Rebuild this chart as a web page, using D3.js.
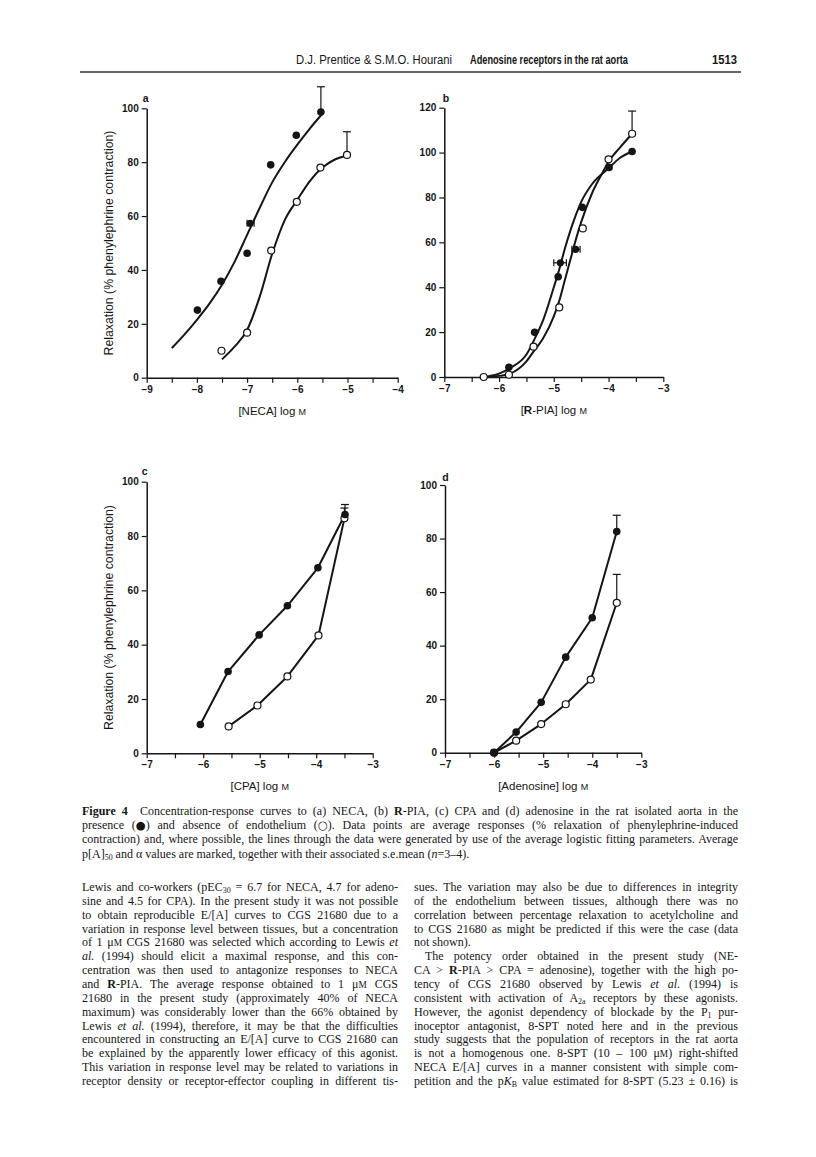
<!DOCTYPE html>
<html><head><meta charset="utf-8">
<script src="https://cdnjs.cloudflare.com/ajax/libs/d3/7.8.5/d3.min.js"></script>
<style>
html,body{margin:0;padding:0;background:#fff;}
svg{display:block;}
</style></head>
<body>
<script>
// ---------------- DATA ----------------
// Panel a: NECA
const necaFilledX = [-7.99, -7.52, -7.0, -6.53, -6.02, -5.53];
const necaFilledY = [25.1, 35.8, 46.2, 79, 90, 98.6];
const necaOpenX = [-7.51, -7.0, -6.52, -6.01, -5.54, -5.01];
const necaOpenY = [10, 16.7, 47.2, 65.3, 78, 82.7];
const necaFitFilledX = [-8.5, -8.25, -8.0, -7.75, -7.5, -7.25, -7.0, -6.75, -6.5, -6.25, -6.0, -5.75, -5.5];
const necaFitFilledY = [11, 16, 21.5, 27.5, 34.5, 43, 53, 63, 72.5, 80, 86.5, 92.5, 98];
const necaFitOpenX = [-7.5, -7.25, -7.0, -6.75, -6.5, -6.25, -6.0, -5.75, -5.5, -5.25, -5.0];
const necaFitOpenY = [6.8, 11.5, 17.7, 30, 46, 58.5, 66, 73, 78, 81, 82.5];
const necaErrTopFilled = 108;   // at last filled point
const necaErrTopOpen = 91.3;    // at last open point
const necaP50 = [[-6.94, 57.3, -7.0, -6.86]]; // x, y, xLow, xHigh

// Panel b: R-PIA
const rpiaFilledX = [-5.82, -5.35, -4.92, -4.48, -3.99, -3.57];
const rpiaFilledY = [4.3, 19.9, 44.7, 75.6, 93.4, 100.5];
const rpiaOpenX = [-6.28, -5.82, -5.37, -4.9, -4.47, -4.0, -3.57];
const rpiaOpenY = [0, 1, 13.5, 31, 66.2, 97, 108.4];
const rpiaFitFilledX = [-6.3, -6.0, -5.8, -5.5, -5.35, -5.2, -5.0, -4.9, -4.8, -4.7, -4.6, -4.5, -4.3, -4.0, -3.8, -3.57];
const rpiaFitFilledY = [0, 1.5, 4, 10, 17, 25, 40, 48, 57, 65, 72, 78, 86, 93, 97.5, 100.5];
const rpiaFitOpenX = [-6.3, -6.0, -5.8, -5.5, -5.35, -5.2, -5.0, -4.9, -4.8, -4.7, -4.6, -4.5, -4.3, -4.1, -4.0, -3.8, -3.57];
const rpiaFitOpenY = [0, 0.5, 1.5, 7, 12, 17, 27, 34, 43, 52, 61, 69, 82, 91.5, 96, 102, 108.4];
const rpiaErrTopOpen = 118.5;
const rpiaP50 = [[-4.88, 50.9, -5.0, -4.77], [-4.6, 56.9, -4.67, -4.52]];

// Panel c: CPA
const cpaFilledX = [-6.05, -5.56, -5.01, -4.51, -3.97, -3.49];
const cpaFilledY = [10.6, 30.1, 43.6, 54.3, 68.3, 87.9];
const cpaOpenX = [-5.55, -5.04, -4.51, -3.96, -3.5];
const cpaOpenY = [9.9, 17.6, 28.3, 43.4, 86.5];
const cpaErrTopFilled = 91.6;
const cpaErrTopOpen = 90.3;

// Panel d: Adenosine
const adoFilledX = [-6.0, -5.55, -5.04, -4.54, -4.0, -3.5];
const adoFilledY = [0, 7.7, 18.8, 35.7, 50.4, 82.6];
const adoOpenX = [-6.0, -5.55, -5.04, -4.54, -4.03, -3.5];
const adoOpenY = [0, 4.5, 10.7, 18.1, 27.3, 56];
const adoErrTopFilled = 88.7;
const adoErrTopOpen = 66.6;

// Ticks
const yTicks100 = [0, 20, 40, 60, 80, 100];
const yTicks120 = [0, 20, 40, 60, 80, 100, 120];
const xTicksA = [-9, -8, -7, -6, -5, -4];
const xTicksBCD = [-7, -6, -5, -4, -3];

// Text
const headerAuthors = "D.J. Prentice & S.M.O. Hourani";
const headerTitle = "Adenosine receptors in the rat aorta";
const headerPage = "1513";
const yAxisTitle = "Relaxation (% phenylephrine contraction)";

const captionLines = [
  "*Figure 4*  Concentration-response curves to (a) NECA, (b) *R*-PIA, (c) CPA and (d) adenosine in the rat isolated aorta in the",
  "presence (^●^) and absence of endothelium (^○^). Data points are average responses (% relaxation of phenylephrine-induced",
  "contraction) and, where possible, the lines through the data were generated by use of the average logistic fitting parameters. Average",
  "p[A]~50~ and α values are marked, together with their associated s.e.mean (_n_=3–4)."
];
const leftLines = [
  "Lewis and co-workers (pEC~30~ = 6.7 for NECA, 4.7 for adeno-",
  "sine and 4.5 for CPA). In the present study it was not possible",
  "to obtain reproducible E/[A] curves to CGS 21680 due to a",
  "variation in response level between tissues, but a concentration",
  "of 1 μ%M% CGS 21680 was selected which according to Lewis _et_",
  "_al._ (1994) should elicit a maximal response, and this con-",
  "centration was then used to antagonize responses to NECA",
  "and *R*-PIA. The average response obtained to 1 μ%M% CGS",
  "21680 in the present study (approximately 40% of NECA",
  "maximum) was considerably lower than the 66% obtained by",
  "Lewis _et al._ (1994), therefore, it may be that the difficulties",
  "encountered in constructing an E/[A] curve to CGS 21680 can",
  "be explained by the apparently lower efficacy of this agonist.",
  "This variation in response level may be related to variations in",
  "receptor density or receptor-effector coupling in different tis-"
];
const rightLines = [
  "sues. The variation may also be due to differences in integrity",
  "of the endothelium between tissues, although there was no",
  "correlation between percentage relaxation to acetylcholine and",
  "to CGS 21680 as might be predicted if this were the case (data",
  "not shown).",
  "The potency order obtained in the present study (NE-",
  "CA > *R*-PIA > CPA = adenosine), together with the high po-",
  "tency of CGS 21680 observed by Lewis _et al._ (1994) is",
  "consistent with activation of A~2a~ receptors by these agonists.",
  "However, the agonist dependency of blockade by the P~1~ pur-",
  "inoceptor antagonist, 8-SPT noted here and in the previous",
  "study suggests that the population of receptors in the rat aorta",
  "is not a homogenous one. 8-SPT (10 – 100 μ%M%) right-shifted",
  "NECA E/[A] curves in a manner consistent with simple com-",
  "petition and the p_K_~B~ value estimated for 8-SPT (5.23 ± 0.16) is"
];
const rightNoJustify = [4];
const rightIndent = [5];

// ---------------- DRAW ----------------
const W = 816, H = 1157;
const ink = "#151515";
const svg = d3.select("body").append("svg").attr("width", W).attr("height", H);
svg.append("rect").attr("width", W).attr("height", H).attr("fill", "#fff");

// header (condensed look via textLength)
const sansH = "'Liberation Sans',Arial,Helvetica,sans-serif";
svg.append("text").attr("x", 296).attr("y", 64).attr("font-family", sansH)
  .attr("font-size", 12).attr("fill", ink).attr("textLength", 156).attr("lengthAdjust", "spacingAndGlyphs")
  .text(headerAuthors);
svg.append("text").attr("x", 470).attr("y", 64).attr("font-family", sansH)
  .attr("font-size", 12).attr("font-weight", "bold").attr("fill", ink)
  .attr("textLength", 158).attr("lengthAdjust", "spacingAndGlyphs").text(headerTitle);
svg.append("text").attr("x", 712).attr("y", 64).attr("font-family", sansH)
  .attr("font-size", 12).attr("font-weight", "bold").attr("fill", ink)
  .attr("textLength", 25).attr("lengthAdjust", "spacingAndGlyphs").text(headerPage);
svg.append("line").attr("x1", 80).attr("x2", 741).attr("y1", 72).attr("y2", 72)
  .attr("stroke", "#333").attr("stroke-width", 1.6);

const sans = "'Liberation Sans',Arial,Helvetica,sans-serif";

function zip(xs, ys) { return xs.map((x, i) => [x, ys[i]]); }

const panels = [
  { id: "a", xd: [-9, -4], xr: [146.7, 397.7], yd: [0, 100], yr: [377.7, 108.3], yt: yTicks100, xt: xTicksA,
    title: ["[NECA] log ", "M"], label: [142.7, 102], ytitle: true,
    filled: zip(necaFilledX, necaFilledY), open: zip(necaOpenX, necaOpenY),
    fitF: zip(necaFitFilledX, necaFitFilledY), fitO: zip(necaFitOpenX, necaFitOpenY), smooth: true,
    errF: necaErrTopFilled, errO: necaErrTopOpen, p50: necaP50 },
  { id: "b", xd: [-7, -3], xr: [444.3, 663.3], yd: [0, 120], yr: [377, 107.7], yt: yTicks120, xt: xTicksBCD,
    title: ["[", "R", "-PIA] log ", "M"], label: [442.7, 102], ytitle: false,
    filled: zip(rpiaFilledX, rpiaFilledY), open: zip(rpiaOpenX, rpiaOpenY),
    fitF: zip(rpiaFitFilledX, rpiaFitFilledY), fitO: zip(rpiaFitOpenX, rpiaFitOpenY), smooth: true,
    errF: null, errO: rpiaErrTopOpen, p50: rpiaP50 },
  { id: "c", xd: [-7, -3], xr: [146.7, 372.7], yd: [0, 100], yr: [753.3, 481.7], yt: yTicks100, xt: xTicksBCD,
    title: ["[CPA] log ", "M"], label: [141.7, 475], ytitle: true,
    filled: zip(cpaFilledX, cpaFilledY), open: zip(cpaOpenX, cpaOpenY),
    fitF: zip(cpaFilledX, cpaFilledY), fitO: zip(cpaOpenX, cpaOpenY), smooth: false,
    errF: cpaErrTopFilled, errO: cpaErrTopOpen, p50: [] },
  { id: "d", xd: [-7, -3], xr: [445, 641.3], yd: [0, 100], yr: [752.7, 485], yt: yTicks100, xt: xTicksBCD,
    title: ["[Adenosine] log ", "M"], label: [442.3, 480.5], ytitle: false,
    filled: zip(adoFilledX, adoFilledY), open: zip(adoOpenX, adoOpenY),
    fitF: zip(adoFilledX, adoFilledY), fitO: zip(adoOpenX, adoOpenY), smooth: false,
    errF: adoErrTopFilled, errO: adoErrTopOpen, p50: [] }
];

panels.forEach(p => {
  const x = d3.scaleLinear().domain(p.xd).range(p.xr);
  const y = d3.scaleLinear().domain(p.yd).range(p.yr);
  const g = svg.append("g");

  // x axis with half-unit minor ticks
  const halfTicks = d3.range(p.xd[0], p.xd[1] + 0.001, 0.5);
  const xa = d3.axisBottom(x).tickValues(halfTicks).tickSize(5).tickSizeOuter(0)
    .tickFormat(d => Number.isInteger(d) ? d3.format("d")(d) : "");
  const gx = g.append("g").attr("transform", `translate(0,${p.yr[0]})`).call(xa);
  gx.select(".domain").attr("stroke", ink).attr("stroke-width", 1.5);
  gx.selectAll(".tick line").attr("stroke", ink).attr("stroke-width", 1.2);
  gx.selectAll(".tick text").attr("font-family", sans).attr("font-weight", "bold")
    .attr("font-size", 10).attr("fill", ink).attr("dy", "0.9em").attr("y", 6);

  const ya = d3.axisLeft(y).tickValues(p.yt).tickSize(5).tickSizeOuter(0).tickFormat(d3.format("d"));
  const gy = g.append("g").attr("transform", `translate(${p.xr[0]},0)`).call(ya);
  gy.select(".domain").attr("stroke", ink).attr("stroke-width", 1.5);
  gy.selectAll(".tick line").attr("stroke", ink).attr("stroke-width", 1.2);
  gy.selectAll(".tick text").attr("font-family", sans).attr("font-weight", "bold")
    .attr("font-size", 10).attr("fill", ink).attr("x", -8);

  // panel letter
  g.append("text").attr("x", p.label[0]).attr("y", p.label[1]).attr("font-family", sans)
    .attr("font-weight", "bold").attr("font-size", 10.5).attr("fill", ink).text(p.id);

  // x title
  const xt = g.append("text").attr("x", (p.xr[0] + p.xr[1]) / 2).attr("y", p.yr[0] + 37)
    .attr("text-anchor", "middle").attr("font-family", sans).attr("font-size", 11.5).attr("fill", ink);
  if (p.id === "b") {
    xt.append("tspan").text("[");
    xt.append("tspan").attr("font-weight", "bold").text("R");
    xt.append("tspan").text("-PIA] log ");
    xt.append("tspan").attr("font-size", 9).text("M");
  } else {
    xt.append("tspan").text(p.title[0]);
    xt.append("tspan").attr("font-size", 9).text(p.title[1]);
  }

  if (p.ytitle) {
    const cy = (p.yr[0] + p.yr[1]) / 2;
    g.append("text").attr("transform", `translate(${p.xr[0] - 34},${cy}) rotate(-90)`)
      .attr("text-anchor", "middle").attr("font-family", sans).attr("font-size", 12.3)
      .attr("fill", ink).text(yAxisTitle);
  }

  // lines
  const line = d3.line().x(d => x(d[0])).y(d => y(d[1]))
    .curve(p.smooth ? d3.curveMonotoneX : d3.curveLinear);
  [p.fitF, p.fitO].forEach(dat => {
    g.append("path").attr("d", line(dat)).attr("fill", "none").attr("stroke", ink)
      .attr("stroke-width", 2).attr("stroke-linejoin", "round");
  });

  // vertical error bars at last points
  const capW = 4;
  function vErr(pt, top) {
    g.append("line").attr("x1", x(pt[0])).attr("x2", x(pt[0])).attr("y1", y(pt[1])).attr("y2", y(top))
      .attr("stroke", ink).attr("stroke-width", 1.2);
    g.append("line").attr("x1", x(pt[0]) - capW).attr("x2", x(pt[0]) + capW).attr("y1", y(top)).attr("y2", y(top))
      .attr("stroke", ink).attr("stroke-width", 1.2);
  }
  if (p.errF != null) vErr(p.filled[p.filled.length - 1], p.errF);
  if (p.errO != null) vErr(p.open[p.open.length - 1], p.errO);

  // horizontal p[A]50 error bars
  p.p50.forEach(m => {
    const yy = y(m[1]);
    g.append("line").attr("x1", x(m[2])).attr("x2", x(m[3])).attr("y1", yy).attr("y2", yy)
      .attr("stroke", ink).attr("stroke-width", 1.2);
    [m[2], m[3]].forEach(v => g.append("line").attr("x1", x(v)).attr("x2", x(v))
      .attr("y1", yy - 3.5).attr("y2", yy + 3.5).attr("stroke", ink).attr("stroke-width", 1.2));
    g.append("circle").attr("cx", x(m[0])).attr("cy", yy).attr("r", 3.6).attr("fill", ink);
  });

  // markers
  g.selectAll(null).data(p.open).enter().append("circle")
    .attr("cx", d => x(d[0])).attr("cy", d => y(d[1])).attr("r", 3.5)
    .attr("fill", "#fff").attr("stroke", ink).attr("stroke-width", 1.2);
  g.selectAll(null).data(p.filled).enter().append("circle")
    .attr("cx", d => x(d[0])).attr("cy", d => y(d[1])).attr("r", 3.8).attr("fill", ink);
});

// ---------------- TEXT BLOCKS ----------------
const serif = "'Liberation Serif','Times New Roman',Times,serif";

function addRich(textEl, s) {
  // markup: *bold*  _italic_  ~sub~  %smallcaps%  ^symbol^
  const re = /(\*[^*]+\*|_[^_]+_|~[^~]+~|%[^%]+%|\^[^^]+\^)/g;
  let last = 0, m;
  const parts = [];
  while ((m = re.exec(s)) !== null) {
    if (m.index > last) parts.push(["", s.slice(last, m.index)]);
    parts.push([m[0][0], m[0].slice(1, -1)]);
    last = m.index + m[0].length;
  }
  if (last < s.length) parts.push(["", s.slice(last)]);
  let pendingUp = 0;
  parts.forEach(([k, t]) => {
    const ts = textEl.append("tspan").text(t);
    if (pendingUp) { ts.attr("dy", -pendingUp); pendingUp = 0; }
    if (k === "*") ts.attr("font-weight", "bold");
    if (k === "_") ts.attr("font-style", "italic");
    if (k === "~") { ts.attr("font-size", "0.66em").attr("dy", 2.2); pendingUp = 2.2; }
    if (k === "%") ts.attr("font-size", "0.78em");
    if (k === "^") ts.attr("font-size", "0.95em").attr("font-family", "'DejaVu Sans',sans-serif");
  });
}

function block(lines, x0, width, y0, lh, size, noJust, indents) {
  lines.forEach((s, i) => {
    const indent = indents.includes(i) ? 11 : 0;
    const t = svg.append("text").attr("x", x0 + indent).attr("y", y0 + i * lh)
      .attr("font-family", serif).attr("font-size", size).attr("fill", ink)
      .style("white-space", "pre");
    addRich(t, s);
    if (!noJust.includes(i)) {
      const natural = t.node().getComputedTextLength();
      const spaces = (s.match(/ /g) || []).length;
      if (spaces > 0) t.attr("word-spacing", ((width - indent) - natural) / spaces);
    }
  });
}

block(captionLines, 82, 656, 815, 14.2, 12, [3], []);
block(leftLines, 82, 316, 891, 13.85, 12, [], []);
block(rightLines, 414, 324, 891, 13.85, 12, rightNoJustify, rightIndent);
</script>
</body></html>
